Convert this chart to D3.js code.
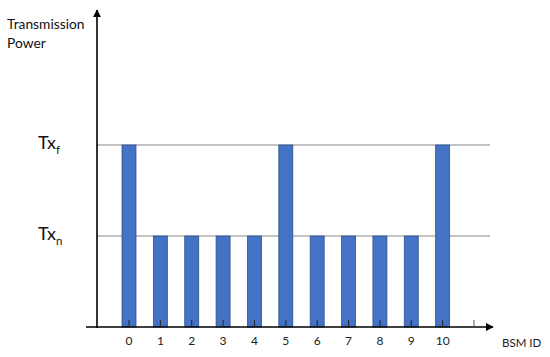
<!DOCTYPE html>
<html>
<head>
<meta charset="utf-8">
<script src="https://cdn.jsdelivr.net/npm/d3@7"></script>
<style>
  body { margin: 0; background: white; }
</style>
</head>
<body>
<svg id="chart" width="550" height="357"></svg>
<script>
const svg = d3.select("#chart");

// data
const bsmIds = [0, 1, 2, 3, 4, 5, 6, 7, 8, 9, 10];
const powerLevel = ["f", "n", "n", "n", "n", "f", "n", "n", "n", "n", "f"];
const levelValues = { n: 1, f: 2 };
const levelLabels = ["n", "f"];
const tickSlots = [0, 1, 2, 3, 4, 5, 6, 7, 8, 9, 10, 11];

// geometry
const x0 = 97, yBase = 327;

const x = d3.scalePoint()
    .domain(tickSlots)
    .range([129, 474]);

const y = d3.scaleLinear()
    .domain([0, 2])
    .range([yBase, 145]);

const font = "Lato, 'Open Sans', sans-serif";

// arrow marker
svg.append("defs").append("marker")
    .attr("id", "arrow")
    .attr("viewBox", "0 0 10 10")
    .attr("refX", 9)
    .attr("refY", 5)
    .attr("markerWidth", 5)
    .attr("markerHeight", 5)
    .attr("orient", "auto")
    .append("path")
    .attr("d", "M0,0 L10,5 L0,10 z")
    .attr("fill", "black");

// reference lines
svg.selectAll("line.ref")
    .data(levelLabels)
    .enter()
    .append("line")
    .attr("class", "ref")
    .attr("x1", x0)
    .attr("x2", 490)
    .attr("y1", d => y(levelValues[d]))
    .attr("y2", d => y(levelValues[d]))
    .attr("stroke", "#555")
    .attr("stroke-width", 0.7);

// bars
const barW = 14;
svg.selectAll("rect.bar")
    .data(bsmIds)
    .enter()
    .append("rect")
    .attr("class", "bar")
    .attr("x", d => x(d) - barW / 2)
    .attr("y", (d, i) => y(levelValues[powerLevel[i]]))
    .attr("width", barW)
    .attr("height", (d, i) => yBase - y(levelValues[powerLevel[i]]))
    .attr("fill", "#4472C4")
    .attr("stroke", "#2F528F")
    .attr("stroke-width", 0.8);

// x axis
svg.append("line")
    .attr("x1", 86)
    .attr("x2", 493)
    .attr("y1", yBase)
    .attr("y2", yBase)
    .attr("stroke", "black")
    .attr("stroke-width", 1.6)
    .attr("marker-end", "url(#arrow)");

// ticks
svg.selectAll("line.tick")
    .data(tickSlots)
    .enter()
    .append("line")
    .attr("class", "tick")
    .attr("x1", d => x(d))
    .attr("x2", d => x(d))
    .attr("y1", yBase - 7)
    .attr("y2", yBase)
    .attr("stroke", d => d < 11 ? "#222" : "#555")
    .attr("stroke-width", 1);

// tick labels
svg.selectAll("text.tick-label")
    .data(bsmIds)
    .enter()
    .append("text")
    .attr("class", "tick-label")
    .attr("x", d => x(d))
    .attr("y", 345)
    .attr("text-anchor", "middle")
    .attr("font-family", font)
    .attr("font-size", "12px")
    .attr("fill", "#222")
    .text(d => d);

// y axis
svg.append("line")
    .attr("x1", x0)
    .attr("x2", x0)
    .attr("y1", yBase + 1)
    .attr("y2", 10)
    .attr("stroke", "black")
    .attr("stroke-width", 1.6)
    .attr("marker-end", "url(#arrow)");

// axis titles
svg.append("text")
    .attr("x", 7)
    .attr("y", 29)
    .attr("font-family", font)
    .attr("font-size", "13.8px")
    .attr("fill", "#111")
    .text("Transmission");

svg.append("text")
    .attr("x", 7)
    .attr("y", 48)
    .attr("font-family", font)
    .attr("font-size", "13.8px")
    .attr("fill", "#111")
    .text("Power");

svg.append("text")
    .attr("x", 502)
    .attr("y", 347)
    .attr("font-family", font)
    .attr("font-size", "11.5px")
    .attr("fill", "#222")
    .text("BSM ID");

// level labels Tx_f, Tx_n
const lvl = svg.selectAll("text.level")
    .data(levelLabels)
    .enter()
    .append("text")
    .attr("class", "level")
    .attr("x", 38)
    .attr("y", d => y(levelValues[d]) + 4)
    .attr("font-family", font)
    .attr("font-size", "18px")
    .attr("fill", "#111");
lvl.append("tspan").text("Tx");
lvl.append("tspan")
    .attr("font-size", "11.5px")
    .attr("dy", 5)
    .text(d => d);
</script>
</body>
</html>
